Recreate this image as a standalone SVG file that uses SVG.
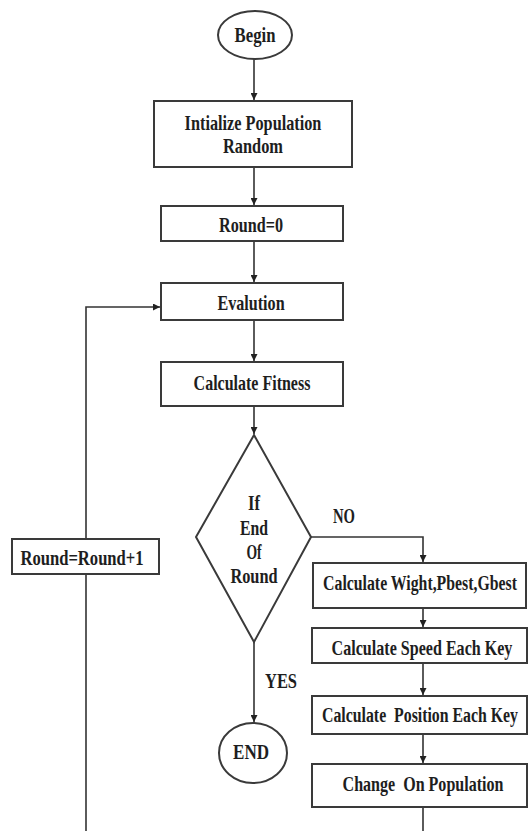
<svg xmlns="http://www.w3.org/2000/svg" width="528" height="831" viewBox="0 0 528 831">
<style>
.s{fill:#fff;stroke:#3a3a3a;stroke-width:2}
.c{fill:none;stroke:#333;stroke-width:1.6}
text{font-family:"Liberation Serif","Times New Roman",serif;font-weight:bold;font-size:22px;fill:#1e1e1e;text-anchor:middle}
.n{font-size:21px}
</style>
<defs>
<marker id="a" viewBox="0 0 10 10" refX="10" refY="5" markerWidth="7" markerHeight="7" markerUnits="userSpaceOnUse" orient="auto"><path d="M0,0L10,5L0,10z" fill="#222"/></marker>
</defs>
<rect width="528" height="831" fill="#fff"/>
<g id="connectors">
<line class="c" x1="254" y1="59" x2="254" y2="100" marker-end="url(#a)"/>
<line class="c" x1="254" y1="167" x2="254" y2="205" marker-end="url(#a)"/>
<line class="c" x1="254" y1="241" x2="254" y2="282" marker-end="url(#a)"/>
<line class="c" x1="254" y1="320" x2="254" y2="361" marker-end="url(#a)"/>
<line class="c" x1="254" y1="406" x2="254" y2="434" marker-end="url(#a)"/>
<line class="c" x1="254" y1="642" x2="254" y2="722" marker-end="url(#a)"/>
<polyline class="c" points="311,537 423,537 423,562" marker-end="url(#a)"/>
<line class="c" x1="423" y1="608" x2="423" y2="627" marker-end="url(#a)"/>
<line class="c" x1="423" y1="663" x2="423" y2="695" marker-end="url(#a)"/>
<line class="c" x1="423" y1="734" x2="423" y2="763" marker-end="url(#a)"/>
<line class="c" x1="423" y1="807" x2="423" y2="831"/>
<line class="c" x1="86" y1="831" x2="86" y2="574"/>
<polyline class="c" points="86,539 86,307 160,307" marker-end="url(#a)"/>
<text transform="translate(344,523) scale(0.8,1)" textLength="27.5" lengthAdjust="spacingAndGlyphs">NO</text>
<text transform="translate(281,688) scale(0.8,1)" textLength="40" lengthAdjust="spacingAndGlyphs">YES</text>
</g>
<g id="begin"><ellipse class="s" cx="255" cy="35" rx="37" ry="24"/><text transform="translate(255,42) scale(0.8,1)" textLength="51" lengthAdjust="spacingAndGlyphs">Begin</text></g>
<g id="init"><rect class="s" x="154" y="101" width="198" height="66"/><text transform="translate(253,130) scale(0.8,1)" textLength="171" lengthAdjust="spacingAndGlyphs">Intialize Population</text><text transform="translate(253,153) scale(0.8,1)" textLength="75" lengthAdjust="spacingAndGlyphs">Random</text></g>
<g id="round0"><rect class="s" x="161" y="206" width="182" height="35"/><text transform="translate(251,232) scale(0.8,1)" textLength="80" lengthAdjust="spacingAndGlyphs">Round=0</text></g>
<g id="evalution"><rect class="s" x="161" y="283" width="182" height="37"/><text transform="translate(251,310) scale(0.8,1)" textLength="84" lengthAdjust="spacingAndGlyphs">Evalution</text></g>
<g id="fitness"><rect class="s" x="161" y="362" width="182" height="44"/><text transform="translate(252,390) scale(0.8,1)" textLength="146" lengthAdjust="spacingAndGlyphs">Calculate Fitness</text></g>
<g id="decision"><polygon class="s" points="254,435 311,537 254,642 196,537"/>
<text transform="translate(254,510) scale(0.8,1)" textLength="15" lengthAdjust="spacingAndGlyphs">If</text>
<text transform="translate(254,535) scale(0.8,1)" textLength="35" lengthAdjust="spacingAndGlyphs">End</text>
<text transform="translate(254,559) scale(0.8,1)" textLength="19" lengthAdjust="spacingAndGlyphs">Of</text>
<text transform="translate(254,583) scale(0.8,1)" textLength="59" lengthAdjust="spacingAndGlyphs">Round</text></g>
<g id="increment"><rect class="s" x="12" y="539" width="147" height="35"/><text transform="translate(82,565) scale(0.8,1)" textLength="154" lengthAdjust="spacingAndGlyphs">Round=Round+1</text></g>
<g id="wight"><rect class="s" x="313" y="563" width="213" height="45"/><text class="n" transform="translate(420,590) scale(0.7,1)" textLength="277" lengthAdjust="spacingAndGlyphs">Calculate Wight,Pbest,Gbest</text></g>
<g id="speed"><rect class="s" x="312" y="628" width="215" height="35"/><text transform="translate(422,655) scale(0.8,1)" textLength="226" lengthAdjust="spacingAndGlyphs">Calculate Speed Each Key</text></g>
<g id="position"><rect class="s" x="312" y="696" width="215" height="38"/><text class="n" transform="translate(420,722) scale(0.7,1)" textLength="280" lengthAdjust="spacingAndGlyphs" xml:space="preserve">Calculate  Position Each Key</text></g>
<g id="change"><rect class="s" x="312" y="764" width="215" height="43"/><text transform="translate(423,791) scale(0.8,1)" textLength="201" lengthAdjust="spacingAndGlyphs" xml:space="preserve">Change  On Population</text></g>
<g id="end"><ellipse class="s" cx="253" cy="753" rx="34" ry="30"/><text transform="translate(251,759) scale(0.8,1)" textLength="45" lengthAdjust="spacingAndGlyphs">END</text></g>
</svg>
